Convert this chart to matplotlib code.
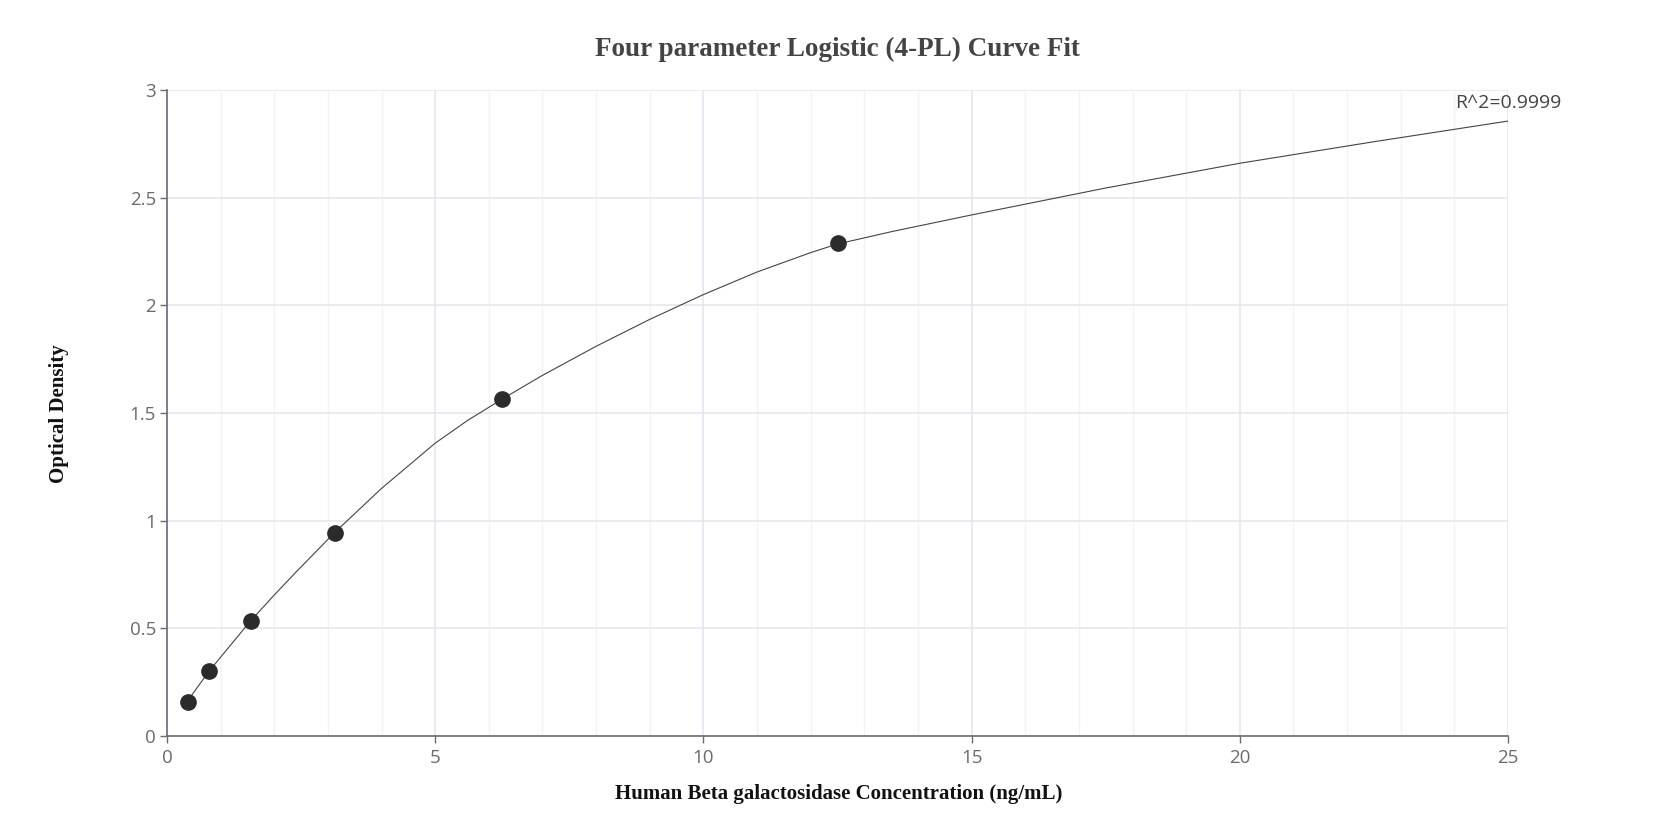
import matplotlib
matplotlib.use("Agg")
import matplotlib.pyplot as plt
from matplotlib.ticker import MultipleLocator

# standards (concentration ng/mL, OD)
conc = [0.39, 0.78, 1.56, 3.125, 6.25, 12.5]
od = [0.16, 0.30, 0.535, 0.945, 1.565, 2.29]

# fitted 4-PL curve
fit_x = [0.39, 0.78, 1.56, 2.0, 2.4, 3.125, 4.0, 5.0, 5.6, 6.25, 7.0, 8.0,
         9.0, 10.0, 11.0, 12.0, 12.5, 13.5, 15.0, 17.5, 20.0, 22.5, 25.0]
fit_y = [0.165, 0.30, 0.535, 0.655, 0.76, 0.945, 1.15, 1.36, 1.465, 1.565,
         1.675, 1.81, 1.935, 2.05, 2.155, 2.245, 2.285, 2.342, 2.42, 2.545,
         2.66, 2.76, 2.856]

r2_label = "R^2=0.9999"
title = "Four parameter Logistic (4-PL) Curve Fit"
x_title = "Human Beta galactosidase Concentration (ng/mL)"
y_title = "Optical Density"

fig = plt.figure(figsize=(16.75, 8.4), dpi=100)
ax = fig.add_axes([0.0997, 0.1238, 0.8006, 0.769])

ax.plot(fit_x, fit_y, '-', color='#444444', lw=0.8, zorder=3)
ax.plot(conc, od, 'o', color='#2b2b2b', ms=11, zorder=4)

ax.set_xlim(0, 25)
ax.set_ylim(0, 3)
ax.xaxis.set_major_locator(MultipleLocator(5))
ax.xaxis.set_minor_locator(MultipleLocator(1))
ax.set_yticks([0, 0.5, 1, 1.5, 2, 2.5, 3])
ax.set_yticklabels(['0', '0.5', '1', '1.5', '2', '2.5', '3'])

ax.grid(which='major', color='#e3e6ef', lw=1.1)
ax.grid(which='minor', axis='x', color='#f0f2f8', lw=1.0)
ax.set_axisbelow(True)

for s in ['top', 'right']:
    ax.spines[s].set_visible(False)
for s in ['left', 'bottom']:
    ax.spines[s].set_color('#6b6b78')
    ax.spines[s].set_linewidth(1.2)

ax.tick_params(which='major', length=5, width=1, color='#6b6b78',
               labelcolor='#6b6b6b', labelsize=13.5)
ax.tick_params(which='minor', length=0)
ax.tick_params(axis='x', pad=4)
ax.tick_params(axis='y', pad=3)
for lab in ax.get_xticklabels() + ax.get_yticklabels():
    lab.set_family('Open Sans')

ax.text(25, 2.94, r2_label, ha='center', va='center', fontsize=14,
        color='#444444', family='Open Sans', clip_on=False)

fig.text(0.4999, 0.941, title, ha='center', va='center', fontsize=19.5,
         fontweight='bold', color='#444444', family='Liberation Serif')
fig.text(0.5006, 0.055, x_title, ha='center', va='center', fontsize=15,
         fontweight='bold', color='#111111', family='Liberation Serif')
fig.text(0.035, 0.508, y_title, ha='center', va='center', fontsize=15,
         fontweight='bold', color='#111111', family='Liberation Serif',
         rotation=90)

fig.savefig('out.png', dpi=100, facecolor='white')
